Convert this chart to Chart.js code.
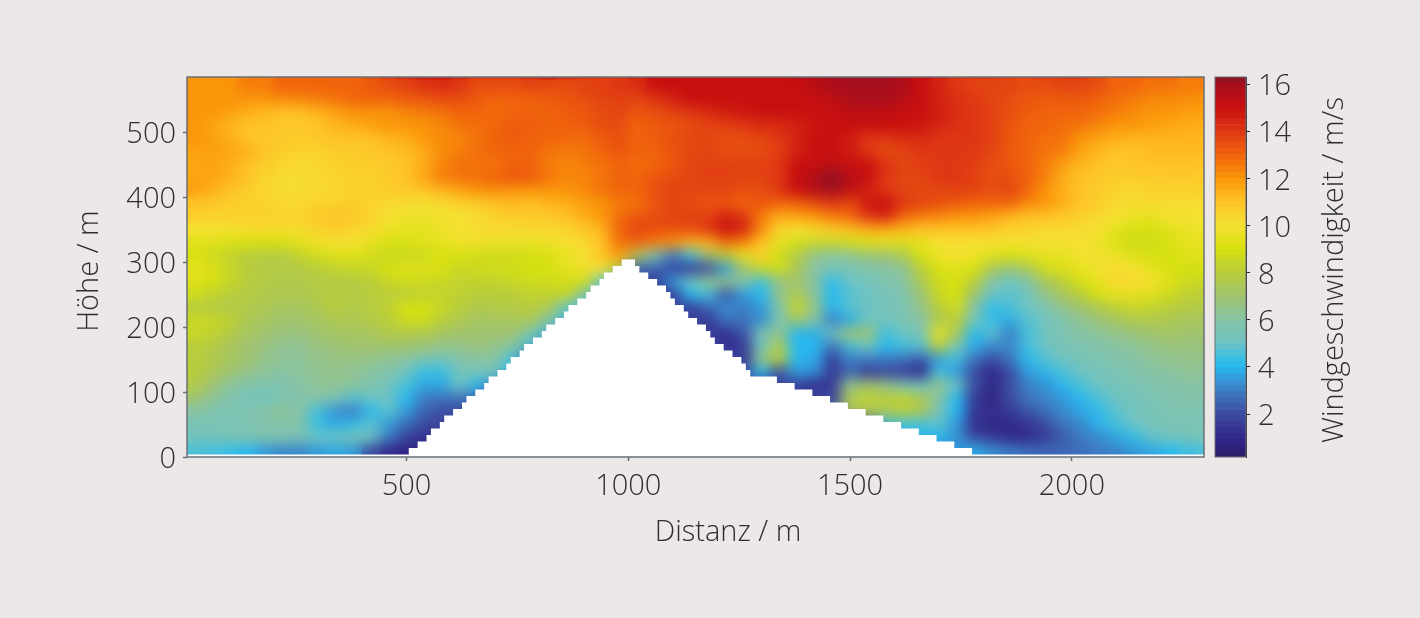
<!DOCTYPE html>
<html lang="de">
<head>
<meta charset="utf-8">
<title>Windgeschwindigkeit</title>
<script src="https://cdn.jsdelivr.net/npm/chart.js@4/dist/chart.umd.min.js"></script>
<style>
  html, body { margin: 0; padding: 0; background: #ece8e8; overflow: hidden; }
  #page { position: relative; width: 1420px; height: 618px; }
  #fieldWrap { position: absolute; left: 0; top: 0; width: 1210px; height: 618px; }
  #barWrap { position: absolute; left: 1210px; top: 0; width: 210px; height: 618px; }
</style>
</head>
<body>
<div id="page">
  <div id="fieldWrap"><canvas id="fieldChart"></canvas></div>
  <div id="barWrap"><canvas id="colorBar"></canvas></div>
</div>
<script>
// Distance of the column centres in m, one value per column of each height band
const distances = [20,60,100,140,180,220,260,300,340,380,420,460,500,540,580,620,660,700,740,780,
  820,860,900,940,980,1020,1060,1100,1140,1180,1220,1260,1300,1340,1380,1420,1460,1500,1540,1580,
  1620,1660,1700,1740,1780,1820,1860,1900,1940,1980,2020,2060,2100,2140,2180,2220,2260,2300];

// Wind speed in m/s per height band, the name is the lower edge of the band in m
const speed580 = [12,12,12,12.5,12.5,13,13,13,13,13, 13.5,14,14.5,15,15,14.5,14,14,14,14.5, 15,14.5,14,14,14,14.5,15,15,15,15, 15,15,15,15,15.5,15.5,16,16,16,16, 15.5,15,14.5,14,14,14,13.7,13.7,14,14, 14,13.5,13,13,13,13,12.5,12.5];
const speed560 = [12,12,12,12.5,12.5,13,13,13,13,13, 13.2,13.5,13.7,14,14.2,14,13.5,13.5,13.5,13.7, 13.5,13.5,13.7,13.8,14,14.2,15,15,15,15, 15,15,15,15,15,15.5,15.8,16,16,16, 15.8,15,14.5,14,13.7,13.7,13.7,13.5,13.5,13.7, 13.7,13.5,13,13,12.7,12.7,12.5,12.5];
const speed540 = [12,12,12,12,12,12.2,12.3,12.5,12.7,13, 13,13,13.2,13.3,13.5,13.5,13.2,13,13,13, 13.2,13.3,13.5,13.7,13.8,13.7,14,14.5,15,15, 15,15,15,15,15,15,15.2,15.8,15.8,15.8, 15.5,15,14.5,14.2,14,13.7,13.5,13.3,13.2,13.2, 13.2,13,12.8,12.5,12.3,12.2,12.2,12];
const speed520 = [12,12,11.8,11.5,11.2,11,11,11.3,11.7,12, 12,12,12.3,12.5,12.7,13,13,12.8,13,13, 13,13.2,13.3,13.5,13.7,13.3,13.5,13.7,14,14.3, 14.6,14.8,15,15,15,15,15,15.3,15.3,15.2, 15,15,14.7,14.2,14,13.8,13.5,13.2,13,13, 13,12.8,12.5,12.2,12,12,11.8,11.8];
const speed500 = [12,11.7,11.3,11,11,10.8,10.8,11,11.3,11.5, 11.8,12,12,12,12.3,12.7,12.8,13,13.2,13.2, 13,13,13.2,13.5,13.5,13,13.2,13.3,13.5,13.7, 13.8,14,14.2,14.3,14.5,14.8,15,15,15,15, 15,14.8,14.5,14.2,14,13.8,13.3,13,13,12.8, 12.7,12.3,12,12,11.8,11.7,11.5,11.5];
const speed480 = [12,11.8,11.5,11,10.8,10.8,10.8,10.8,11,11, 11,11.3,11.5,12,12.2,12.3,12.7,13,13.2,13, 13,13,12.8,13.2,13.5,13,13.2,13.5,13.6,13.7, 13.5,13.5,13.7,14,14.5,15,15,14.7,14,14, 14.2,14.3,14,14,14,13.8,13.3,13,12.8,12.7, 12,11.7,11.5,11.3,11.3,11.3,11.3,11.3];
const speed460 = [11.7,11.8,11.7,11.5,11,10.7,10.5,10.5,10.7,10.7, 10.8,11,11.2,11.5,12.2,12.5,12.8,13,13,13, 12.7,12.5,12.7,13,13.3,13,13,13.3,13.6,13.7, 13.5,13.5,13.5,13.8,14.5,15,15,14.7,14,13.5, 13.7,14,14,14,14,13.7,13.2,13,12.7,12.5, 11.7,11.3,11,11,11.2,11.2,11.2,11.2];
const speed440 = [11.7,11.7,11.5,11,10.7,10.3,10.3,10.3,10.5,10.7, 10.7,10.7,11,11.5,12.3,12.7,12.7,12.7,13,13, 12.5,12.3,12.5,12.7,13,12.8,13,13.3,13.7,13.8, 13.8,13.8,13.8,14,15,15,15.2,15,15,14.2, 13.7,13.8,14,14,13.8,13.5,13.3,13,12.5,11.8, 11.3,11,10.8,11,11,11,11,11];
const speed420 = [11.7,11.7,11.5,11,10.5,10.2,10.2,10.3,10.5,10.5, 10.5,10.8,11,11.7,12.5,12.7,12.8,13,13.3,13.2, 12.7,12.3,12.3,12.7,13,13,13.3,13.5,13.7,13.8, 13.8,13.7,13.7,14,15,15.7,16.2,15.5,15,14, 13.7,13.7,14,14,13.8,13.5,13.5,13,12.5,11.5, 11,10.8,10.7,10.7,10.7,10.8,10.8,10.8];
const speed400 = [11.8,11.5,11,10.7,10.3,10.2,10.2,10.2,10.3,10.5, 10.5,10.7,10.8,11,11.3,11.7,12,12.2,12,12, 12,12,12.3,12.7,13,13,13.5,13.7,13.7,13.7, 13.7,13.5,13.5,14,15,15.6,16,15.3,14.5,14, 13.7,13.6,13.6,13.8,13.7,13.5,13.7,13,12,11.5, 11,10.7,10.4,10.3,10.5,10.5,10.5,10.5];
const speed380 = [11,10.8,10.7,10.5,10.5,10.3,10.3,10.5,10.5,10.7, 10.5,10.3,10.2,10,10.2,10.5,10.7,11,11.2,11, 11.3,11.5,11.8,12,12.5,12.7,13.3,13.7,13.5,13.3, 13.3,13,13.3,13,13,13.5,14,13.5,14.8,15, 14,13.7,13.5,13.2,13,13,13,12.3,12,11.5, 11,10.7,10.3,10.2,10.2,10.2,10.2,10.2];
const speed360 = [10.7,10.5,10.5,10.5,10.5,10.5,10.5,10.8,11,10.8, 10.5,10,9.8,9.7,9.8,10,10.2,10.5,10.7,10.8, 10.8,11,11.5,12,12.8,13.3,13.5,13.7,13.8,13.8, 14.5,14,12.5,11.5,11.7,12,12.5,13,14,14.5, 13,12.5,12.3,12,12,11.7,11.3,11,11,10.8, 10.5,10.3,10,9.7,9.5,10,10,10];
const speed340 = [10,10,10,10.2,10.3,10.2,10.2,10.5,10.7,10.5, 10.2,9.7,9.5,9.5,9.8,10,10.2,10.3,10.2,10.3, 10.3,10.5,10.8,11.3,13,13.7,13.5,13.5,13.5,14, 15,14.5,12.3,10.5,10,10.3,10.7,11,11.5,11.5, 11.3,11,11,11,11,11,10.5,10.5,10.3,10.3, 10.2,10,9.5,9,9,9.3,9.7,9.7];
const speed320 = [9.3,9.3,9.1,9,9,9,9.3,9.8,10,10, 9.5,9,9,9.3,9.5,9.8,9.8,9.7,9.7,9.6, 9.8,10,10.3,11,12.7,13,12.5,12,11.5,11.5, 12.7,12.3,11,9.5,8.8,8.5,8.5,8.8,9.2,9.4, 9.2,9.5,10,10,10,10,10,10,10,10, 10,9.8,9,8.7,8.7,9,9.5,9.5];
const speed300 = [9,8.7,8.3,8,7.8,7.8,8.3,8.8,9.2,9.3, 8.8,8.5,8.6,8.7,9,9,8.8,8.7,8.7,8.9, 9,9.5,10,11,11.8,7.5,5.5,3,4.5,7, 8,9.5,10.5,8.8,7.8,6.5,6,6.3,6.8,7, 7.5,9,9.7,10,9.7,9.3,9,9.2,9.5,9.5, 10,9.8,9.8,9.2,9,9,9.3,9.3];
const speed280 = [9.5,9.3,8.5,8,7.8,7.8,7.8,8,8.3,8.5, 8.5,9,9.3,9.3,9.1,8.5,8.7,8.8,8.8,9, 9,9.5,9.8,10,8,2.5,2.5,1.8,1.5,2, 3.5,7,8.5,8.8,7.5,6,5.5,5.5,5.7,6, 6.3,8,9,9.3,9,7.5,6.8,7.5,8.8,9.2, 9.5,10,10.2,10,9.5,9,8.9,8.9];
const speed260 = [9.3,9,8.5,8,7.8,7.7,7.7,7.8,7.8,7.8, 8,8.5,8.8,8.7,8.5,8.3,8.3,8.3,8.5,8.7, 8.7,8.8,8.8,5,4,2,1.5,3.5,5,6.5, 6.5,6,4.5,6.5,7,6,4.2,5,5.3,5.7, 6,7.5,8.7,9,8,6,5,5.8,7.3,8, 9,9.5,10.3,10.3,10,9.3,8.7,8.5];
const speed240 = [8.7,8.3,8,7.8,7.7,7.6,7.6,7.8,8,7.8, 8,8,8,8.2,8.3,8.2,8,8,8,8.3, 8.3,8.5,6,4.5,2,2,2,1.5,4,4.5, 2.2,3.5,4,6.5,7.5,6.2,4,4.7,5,5.3, 5.7,6.8,8.5,9,7,5,4.8,5.2,6.5,7.3, 8,9,9.5,9.5,9.3,8.7,8.2,8];
const speed220 = [8,7.8,7.7,7.7,7.5,7.3,7.3,7.5,8,7.7, 7.9,8.2,9,9,8.5,8,7.7,7.8,7.8,8, 7.5,5,4.5,2,2,2,2,2,1.5,2.5, 3.3,3,3.5,5.5,8.5,6.5,4,4.8,5,5.3, 5.5,6.5,8,8.7,6,4.2,4.6,5,5.5,6.5, 7,7.5,8.2,8.5,8.3,8,7.8,7.8];
const speed200 = [8.5,8.5,8.3,7.5,7.3,7,7,7.3,7.5,7.5, 7.8,8,8.7,8.7,8,7.6,7.2,7.2,7.3,7.5, 6,4.5,2,2,2,2,2,2,2,1.5, 2.8,2.8,3.3,5.5,7,6,3,3.8,5,5.2, 5.5,6,7.5,8,5.5,4.3,3.8,4.7,5.2,5.7, 6.3,6.8,7.2,7.5,7.7,7.5,7.3,7.3];
const speed180 = [8.5,8.3,7.8,7.3,7,6.8,6.7,7,7.2,7.3, 7.3,7.7,7.7,7.6,7.3,7,7,7,7,5.5, 4.5,2,2,2,2,2,2,2,2,1.5, 1.2,2.2,5.5,6.5,4,3.8,5,7,7,4.5, 5,5.5,9.5,7.5,4,4.8,3,4.5,5.2,5.6, 6,6.2,6.5,6.8,7,7.2,7,7];
const speed160 = [8,7.8,7.3,7,6.7,6.3,6.3,6.7,6.8,7, 7,7,7,6.8,6.5,6.5,6.8,6.5,6,4.5, 2,2,2,2,2,2,2,2,2,2, 1.2,1.5,5,7.5,4,4,2.8,4.5,5,4, 4.5,4.7,8,5.5,3.8,3.2,3.2,4.5,5,5.4, 5.6,5.8,6,6.2,6.5,6.7,6.7,6.7];
const speed140 = [8,7.7,7.3,7,6.5,6.3,6.2,6.5,6.6,6.6, 6.5,6.3,6,5.5,5.3,5.8,6,6,4.5,2, 2,2,2,2,2,2,2,2,2,2, 2,1.5,6.5,8.2,4,3.7,1.7,3,3,3, 2.8,2.3,3.5,4.5,2.8,2,2.8,4,4.7,5.1, 5.4,5.6,5.8,6,6.2,6.4,6.5,6.5];
const speed120 = [8,7.5,7,6.5,6.2,6,6.2,6.3,6.5,6.3, 6,5.8,5.2,4.3,4.3,5.2,5.5,5,4,2, 2,2,2,2,2,2,2,2,2,2, 2,2,4,2,3.5,3.3,1.5,2.5,1.5,1.7, 1.5,0.8,4.5,3.5,2,1,2,3.5,3.9,4.6, 5,5.3,5.5,5.7,6,6.1,6.3,6.3];
const speed100 = [7.7,7,6.2,5.8,5.7,5.7,6,6.3,6.3,6.2, 5.7,5.2,4.5,3.7,3.7,5,4,3,2,2, 2,2,2,2,2,2,2,2,2,2, 2,2,2,2,1.5,1,1.5,6.5,7,6.5, 5.5,5,6.5,5,2.2,0.9,2,3,3.4,4, 4.6,5,5.3,5.5,5.7,5.8,6,6];
const speed80 = [7,6.3,5.7,5.3,5.2,5.5,5.8,6,5.5,4.7, 5,5,4,3,2.8,2.8,2.5,2,2,2, 2,2,2,2,2,2,2,2,2,2, 2,2,2,2,2,2,2,7.5,8.3,8, 8.3,7.5,6,4,1.5,0.7,2,2.8,3.1,3.5, 4,4.6,5,5.3,5.5,5.7,5.8,5.8];
const speed60 = [6,5.7,5.5,5.7,6,6.3,6,4.5,3.3,3, 4,4.8,3.5,2.5,2,2,2,2,2,2, 2,2,2,2,2,2,2,2,2,2, 2,2,2,2,2,2,2,7.5,7.5,7.5, 8,7.5,5.5,4,1.5,1.2,1.5,2.2,2.7,3.2, 3.7,4.2,4.8,5.2,5.4,5.6,5.6,5.6];
const speed40 = [5.5,5.5,5.5,5.5,5.7,5.8,5.8,4.3,3.8,4.2, 4.8,3.5,2.7,2,1.8,1.8,2,2,2,2, 2,2,2,2,2,2,2,2,2,2, 2,2,2,2,2,2,2,2,2,4.5, 4.5,4.5,4.8,3.5,1.2,0.8,1,1.3,2,2.8, 3.2,3.9,4.5,5,5.3,5.5,5.5,5.5];
const speed20 = [5.2,5.3,5.5,5.7,5.7,5.7,5.5,5,5,5.5, 5,3,1.7,1.2,1.2,1.2,2,2,2,2, 2,2,2,2,2,2,2,2,2,2, 2,2,2,2,2,2,2,2,2,2, 4,4,4,3.3,2,1.5,1,1,1.5,2.3, 2.9,3.2,3.7,4.2,4.9,5.2,5.4,5.4];
const speed0 = [4.6,4.5,4.3,4,3.5,3.2,3.2,3.5,3.7,3.5, 2,1,0.8,0.8,0.8,2,2,2,2,2, 2,2,2,2,2,2,2,2,2,2, 2,2,2,2,2,2,2,2,2,2, 2,2,3.5,3.5,3.8,3.3,3,2.7,2.6,2.6, 2.7,3,3.1,3.4,3.7,4,4.4,4.6];

const bandFloors = [0,20,40,60,80,100,120,140,160,180,200,220,240,260,280,300,320,340,360,380,400,420,440,460,480,500,520,540,560,580];
const bandSpeeds = [speed0,speed20,speed40,speed60,speed80,speed100,speed120,speed140,speed160,speed180,
  speed200,speed220,speed240,speed260,speed280,speed300,speed320,speed340,speed360,speed380,
  speed400,speed420,speed440,speed460,speed480,speed500,speed520,speed540,speed560,speed580];

// Terrain outline: distance where a step starts and the height of that step
const terrainX = [0,505,525,545,555,575,585,605,625,635,655,675,685,705,725,735,755,765,785,805,815,835,855,865,885,905,915,935,945,965,985,
  1015,1025,1045,1065,1085,1095,1105,1125,1135,1155,1175,1185,1195,1215,1235,1255,1265,1275,1335,1375,1415,1455,1495,1535,1575,1615,1655,1695,1735,1775,2300];
const terrainH = [4,14,24,34,44,54,64,74,84,94,104,114,124,134,144,154,164,174,184,194,204,214,224,234,244,254,264,274,284,294,304,
  294,284,274,264,254,244,234,224,214,204,194,184,174,164,154,144,134,124,114,104,94,84,74,64,54,44,34,24,14,4,4];

const xTicks = [500,1000,1500,2000];
const yTicks = [0,100,200,300,400,500];
const barTicks = [2,4,6,8,10,12,14,16];

// Colour scale
const scaleSpeeds = [0.2,1,2,3,4,4.4,5,6,7,8,9,10,11,12,13,14,15,16,16.3];
const scaleColours = [[45,28,105],[50,40,140],[60,75,160],[62,125,195],[40,185,240],[60,190,225],[110,195,195],[135,195,165],[160,195,110],
  [185,205,60],[215,225,15],[245,225,50],[255,195,40],[250,150,10],[240,100,12],[222,55,20],[200,15,15],[165,15,30],[130,20,40]];

const textColour = '#2e2e2e';
const axisColour = '#6a6f75';
const tickFont = { family: "'Open Sans'", size: 29, weight: '300' };
// The blank first line with a tight line height drops a y label about 3px, as in the original
const loweredTickFont = { ...tickFont, lineHeight: 0.2 };
const loweredLabel = value => ['', String(value)];

function speedColour(speed) {
  let i = 0;
  while (i < scaleSpeeds.length - 2 && speed > scaleSpeeds[i + 1]) i++;
  const t = Math.min(1, Math.max(0, (speed - scaleSpeeds[i]) / (scaleSpeeds[i + 1] - scaleSpeeds[i])));
  const a = scaleColours[i], b = scaleColours[i + 1];
  return `rgb(${a.map((v, k) => Math.round(v + (b[k] - v) * t)).join(',')})`;
}

function drawAxisText(ctx, text, x, y, rotated) {
  ctx.save();
  ctx.translate(x, y);
  if (rotated) ctx.rotate(-Math.PI / 2);
  ctx.font = "300 29px 'Open Sans'";
  ctx.fillStyle = textColour;
  ctx.textAlign = 'center';
  ctx.textBaseline = 'middle';
  ctx.fillText(text, 0, 0);
  ctx.restore();
}

function pinnedTicks(values) {
  return scale => { scale.ticks = values.map(value => ({ value })); };
}

// Soften the cells into a continuous field, just before the terrain is filled in on top
const smoothField = {
  id: 'smoothField',
  afterDatasetDraw(chart, args) {
    if (args.index !== 1) return;
    const { left, top, width, height } = chart.chartArea;
    const ctx = chart.ctx;
    ctx.save();
    ctx.beginPath();
    ctx.rect(left, top, width, height);
    ctx.clip();
    ctx.filter = 'blur(7px)';
    ctx.drawImage(chart.canvas, left, top, width, height, left, top, width, height);
    ctx.restore();
  },
  afterDraw(chart) {
    const { left, top, width, height } = chart.chartArea;
    const ctx = chart.ctx;
    ctx.save();
    ctx.strokeStyle = axisColour;
    ctx.lineWidth = 1.5;
    ctx.strokeRect(left, top, width, height);
    ctx.restore();
    drawAxisText(ctx, 'Distanz / m', 728, 533, false);
    drawAxisText(ctx, 'Höhe / m', 90, 271, true);
  }
};

const barFrame = {
  id: 'barFrame',
  afterDraw(chart) {
    const { left, top, width, height } = chart.chartArea;
    const ctx = chart.ctx;
    ctx.save();
    ctx.strokeStyle = axisColour;
    ctx.lineWidth = 1;
    ctx.strokeRect(left, top, width, height);
    ctx.restore();
    drawAxisText(ctx, 'Windgeschwindigkeit / m/s', 125, 270, true);
  }
};

const fieldDatasets = bandSpeeds.map((speeds, b) => ({
  type: 'bar',
  data: distances.map(x => ({ x, y: [bandFloors[b], bandFloors[b] + 20] })),
  backgroundColor: speeds.map(speedColour),
  borderWidth: 0,
  grouped: false,
  barPercentage: 1,
  categoryPercentage: 1
}));

new Chart(document.getElementById('fieldChart'), {
  type: 'bar',
  data: {
    datasets: [
      {
        type: 'line',
        data: terrainX.map((x, i) => ({ x, y: terrainH[i] })),
        stepped: true,
        fill: 'origin',
        backgroundColor: '#ffffff',
        borderWidth: 0,
        pointRadius: 0
      },
      ...fieldDatasets
    ]
  },
  options: {
    responsive: true,
    maintainAspectRatio: false,
    animation: false,
    events: [],
    layout: { padding: { left: 0, top: 77, right: 6, bottom: 0 } },
    plugins: { legend: { display: false }, tooltip: { enabled: false } },
    scales: {
      x: {
        type: 'linear',
        min: 5,
        max: 2298,
        offset: false,
        afterBuildTicks: pinnedTicks(xTicks),
        afterFit: scale => { scale.height = 161; },
        border: { display: false },
        grid: { offset: false, drawOnChartArea: false, tickLength: 4, tickColor: axisColour, tickWidth: 1.5 },
        ticks: { font: tickFont, color: textColour, padding: 8, maxRotation: 0, autoSkip: false, callback: value => String(value) }
      },
      y: {
        type: 'linear',
        min: 0,
        max: 585,
        afterBuildTicks: pinnedTicks(yTicks),
        afterFit: scale => { scale.width = 187; },
        border: { display: false },
        grid: { drawOnChartArea: false, tickLength: 4, tickColor: axisColour, tickWidth: 1.5 },
        ticks: { font: loweredTickFont, color: textColour, padding: 7, autoSkip: false, callback: loweredLabel }
      }
    }
  },
  plugins: [smoothField]
});

// Colour bar: one thin floating bar per step of the scale
const barStep = (16.3 - 0.18) / 64;
const barSteps = Array.from({ length: 64 }, (_, i) => 0.18 + i * barStep);

new Chart(document.getElementById('colorBar'), {
  type: 'bar',
  data: {
    labels: [''],
    datasets: barSteps.map(level => ({
      data: [[level, level + barStep]],
      backgroundColor: speedColour(level + barStep / 2),
      borderWidth: 0,
      grouped: false,
      barPercentage: 1,
      categoryPercentage: 1
    }))
  },
  options: {
    responsive: true,
    maintainAspectRatio: false,
    animation: false,
    events: [],
    layout: { padding: { left: 5, top: 77, right: 0, bottom: 161 } },
    plugins: { legend: { display: false }, tooltip: { enabled: false } },
    scales: {
      x: { display: false },
      y: {
        position: 'right',
        min: 0.18,
        max: 16.3,
        afterBuildTicks: pinnedTicks(barTicks),
        afterFit: scale => { scale.width = 174; },
        border: { color: '#222222', width: 1 },
        grid: { drawOnChartArea: false, tickLength: 4, tickColor: '#222222' },
        ticks: { font: loweredTickFont, color: textColour, padding: 8, autoSkip: false, callback: loweredLabel }
      }
    }
  },
  plugins: [barFrame]
});
</script>
</body>
</html>
